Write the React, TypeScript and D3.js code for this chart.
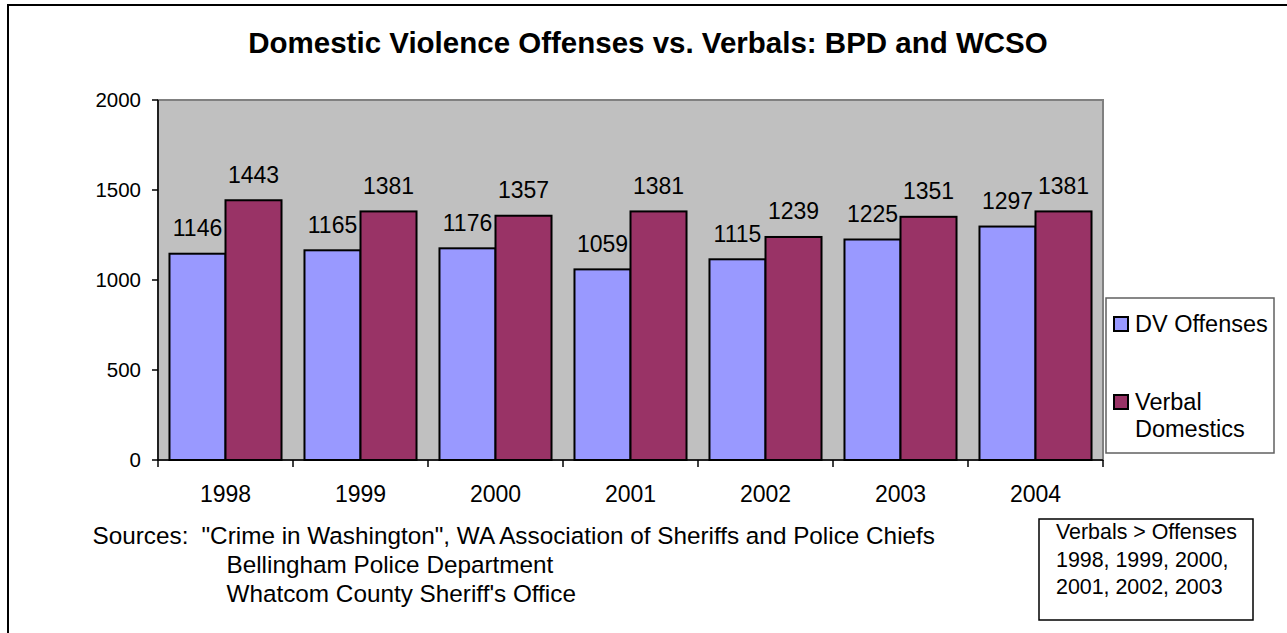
import React from "react";
import * as d3 from "d3";

// Chart data
const years = ["1998", "1999", "2000", "2001", "2002", "2003", "2004"];
const dvOffenses = [1146, 1165, 1176, 1059, 1115, 1225, 1297];
const verbalDomestics = [1443, 1381, 1357, 1381, 1239, 1351, 1381];
const seriesNames = ["DV Offenses", "Verbal Domestics"];
const seriesColors = ["#9999FF", "#993366"];
const yTicks = [0, 500, 1000, 1500, 2000];
const sourceLines = [
  '"Crime in Washington", WA Association of Sheriffs and Police Chiefs',
  "Bellingham Police Department",
  "Whatcom County Sheriff's Office",
];
const noteLines = ["Verbals > Offenses", "1998, 1999, 2000,", "2001, 2002, 2003"];

const W = 1287;
const H = 633;
const FONT = "'Liberation Sans', Arial, Helvetica, sans-serif";

export default function App() {
  const plot = { left: 158, right: 1103, top: 100, bottom: 460 };

  const x = d3.scaleBand<string>().domain(years).range([plot.left, plot.right]).padding(0);
  const xs = d3
    .scaleBand<string>()
    .domain(seriesNames)
    .range([0, x.bandwidth()])
    .paddingInner(0)
    .paddingOuter(0.205);
  const y = d3.scaleLinear().domain([0, 2000]).range([plot.bottom, plot.top]);

  const series = [dvOffenses, verbalDomestics];

  return (
    <svg
      width={W}
      height={H}
      style={{ position: "absolute", left: 0, top: 0, background: "#fff" }}
      fontFamily={FONT}
    >
      {/* chart frame */}
      <rect x={8} y={5} width={1300} height={700} fill="#fff" stroke="#000" strokeWidth={2} />

      {/* title */}
      <text x={648} y={53} textAnchor="middle" fontSize={29.5} fontWeight="bold" fill="#000">
        Domestic Violence Offenses vs. Verbals: BPD and WCSO
      </text>

      {/* plot area */}
      <rect
        x={plot.left}
        y={plot.top}
        width={plot.right - plot.left}
        height={plot.bottom - plot.top}
        fill="#C0C0C0"
        stroke="#808080"
        strokeWidth={2}
      />

      {/* bars */}
      {series.map((vals, si) =>
        vals.map((v, i) => {
          const bx = (x(years[i]) as number) + (xs(seriesNames[si]) as number);
          return (
            <rect
              key={`b-${si}-${i}`}
              x={bx}
              y={y(v)}
              width={xs.bandwidth()}
              height={y(0) - y(v)}
              fill={seriesColors[si]}
              stroke="#000"
              strokeWidth={2}
            />
          );
        })
      )}

      {/* value labels */}
      {series.map((vals, si) =>
        vals.map((v, i) => {
          const cx = (x(years[i]) as number) + (xs(seriesNames[si]) as number) + xs.bandwidth() / 2;
          return (
            <text
              key={`l-${si}-${i}`}
              x={cx}
              y={y(v) - 17.5}
              textAnchor="middle"
              fontSize={23}
              fill="#000"
            >
              {v}
            </text>
          );
        })
      )}

      {/* y axis */}
      <line x1={plot.left} x2={plot.left} y1={plot.top} y2={plot.bottom} stroke="#000" strokeWidth={1.5} />
      {yTicks.map((t) => (
        <g key={`yt-${t}`}>
          <line x1={plot.left - 6} x2={plot.left} y1={y(t)} y2={y(t)} stroke="#000" strokeWidth={1.5} />
          <text x={141} y={y(t) + 7} textAnchor="end" fontSize={20.5} fill="#000">
            {t}
          </text>
        </g>
      ))}

      {/* x axis */}
      <line x1={plot.left} x2={plot.right} y1={plot.bottom} y2={plot.bottom} stroke="#000" strokeWidth={1.5} />
      {years.map((yr) => (
        <line
          key={`xt-${yr}`}
          x1={x(yr) as number}
          x2={x(yr) as number}
          y1={plot.bottom}
          y2={plot.bottom + 7}
          stroke="#000"
          strokeWidth={1.5}
        />
      ))}
      <line x1={plot.right} x2={plot.right} y1={plot.bottom} y2={plot.bottom + 7} stroke="#000" strokeWidth={1.5} />
      {years.map((yr) => (
        <text
          key={`xl-${yr}`}
          x={(x(yr) as number) + x.bandwidth() / 2}
          y={502}
          textAnchor="middle"
          fontSize={23}
          fill="#000"
        >
          {yr}
        </text>
      ))}

      {/* legend */}
      <rect x={1106} y={298} width={168} height={155} fill="#fff" stroke="#606060" strokeWidth={1.5} />
      <rect x={1114} y={317} width={14} height={14} fill={seriesColors[0]} stroke="#000" strokeWidth={2} />
      <text x={1135} y={331.5} fontSize={23.5} fill="#000">
        {seriesNames[0]}
      </text>
      <rect x={1114} y={395} width={14} height={14} fill={seriesColors[1]} stroke="#000" strokeWidth={2} />
      <text x={1135} y={410} fontSize={23.5} fill="#000">
        Verbal
      </text>
      <text x={1135} y={436.5} fontSize={23.5} fill="#000">
        Domestics
      </text>

      {/* sources */}
      <text x={92.5} y={544} fontSize={24.3} fill="#000">
        Sources:
      </text>
      {sourceLines.map((s, i) => (
        <text key={`src-${i}`} x={i === 0 ? 201.5 : 226.5} y={544 + i * 29} fontSize={24.3} fill="#000">
          {s}
        </text>
      ))}

      {/* note box */}
      <rect x={1039} y={519} width={214} height={101} fill="#fff" stroke="#000" strokeWidth={1.5} />
      {noteLines.map((s, i) => (
        <text key={`n-${i}`} x={1056} y={539 + i * 27.5} fontSize={21.4} fill="#000">
          {s}
        </text>
      ))}
    </svg>
  );
}
